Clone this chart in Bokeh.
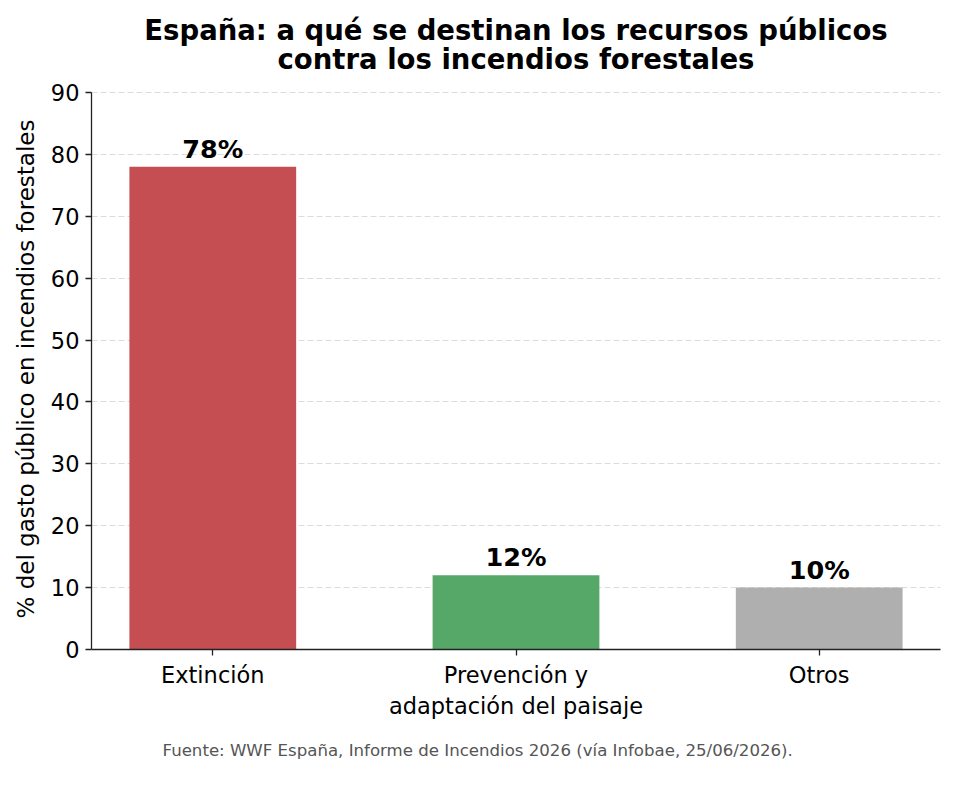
# Bar chart: public spending on forest fires in Spain, by destination
from bokeh.plotting import figure
from bokeh.models import ColumnDataSource, Range1d, FixedTicker, Label, Title
from bokeh.core.properties import value
from bokeh.embed import file_html
from bokeh.resources import INLINE

########################################################################################################################
# Data

categories = ["Extinción", "Prevención y\nadaptación del paisaje", "Otros"]
shares = [78, 12, 10]
bar_labels = ["78%", "12%", "10%"]
bar_colors = ["#c44e52", "#55a868", "#afafaf"]

title_lines = ["España: a qué se destinan los recursos públicos", "contra los incendios forestales"]
y_label = "% del gasto público en incendios forestales"
source_text = "Fuente: WWF España, Informe de Incendios 2026 (vía Infobae, 25/06/2026)."

FONT = "DejaVu Sans"
Y_MAX = 90
Y_TOP = 104.87   # room above the axis for the two title lines

positions = list(range(len(categories)))
src = ColumnDataSource(data=dict(x=positions, top=shares, label=bar_labels, color=bar_colors))

########################################################################################################################
# Figure

p = figure(width=955, height=789, title=None,
           x_range=Range1d(-0.4, 2.4), y_range=Range1d(0, Y_TOP),
           output_backend="svg", toolbar_location=None,
           min_border_left=91, min_border_right=15, min_border_top=0, min_border_bottom=140)
p.outline_line_color = None
p.background_fill_color = "white"

# title lines, placed in the empty band above the axis
for line, sy in ((title_lines[0], 620), (title_lines[1], 591)):
    p.add_layout(Label(x=1, y=sy, x_units="data", y_units="screen", text=line,
                       text_align="center", text_baseline="middle", text_font=FONT,
                       text_font_size="27.5px", text_font_style="bold", text_color="black"))

# bars
p.vbar(x="x", top="top", width=0.55, color="color", line_color=None, source=src)

# value labels on top of bars
p.text(x="x", y="top", text="label", source=src, text_align="center", text_baseline="alphabetic",
       y_offset=-18, text_font=value(FONT), text_font_size="25.5px", text_font_style="bold",
       text_color="black")

# axes
p.xaxis.ticker = FixedTicker(ticks=positions)
p.xaxis.major_label_overrides = {i: c for i, c in enumerate(categories)}
p.yaxis.ticker = FixedTicker(ticks=list(range(0, Y_MAX + 1, 10)))
p.yaxis.bounds = (0, Y_MAX)
for ax in (p.xaxis, p.yaxis):
    ax.axis_line_color = "#222222"
    ax.axis_line_width = 1.3
    ax.major_tick_line_color = "#222222"
    ax.major_tick_line_width = 1.3
    ax.major_tick_out = 6
    ax.major_tick_in = 0
    ax.minor_tick_line_color = None
    ax.major_label_text_font = FONT
    ax.major_label_text_font_size = "22.5px"
    ax.major_label_text_color = "black"
    ax.major_label_standoff = 6

# y label as a side title, so it is centred on the 0-90 axis rather than the whole frame
p.add_layout(Title(text=y_label, align="left", offset=31, standoff=17, text_font=FONT,
                   text_font_size="23px", text_font_style="normal", text_color="black"), "left")

# grid
p.xgrid.grid_line_color = None
p.ygrid.grid_line_color = "#dcdcdc"
p.ygrid.grid_line_dash = "6 3"
p.ygrid.grid_line_width = 1

# source note
p.add_layout(Title(text=source_text, align="left", offset=71, standoff=38, vertical_align="top",
                   text_font=FONT, text_font_size="16.6px", text_font_style="normal",
                   text_color="#555555"), "below")

open("out.html", "w").write(file_html(p, INLINE))
